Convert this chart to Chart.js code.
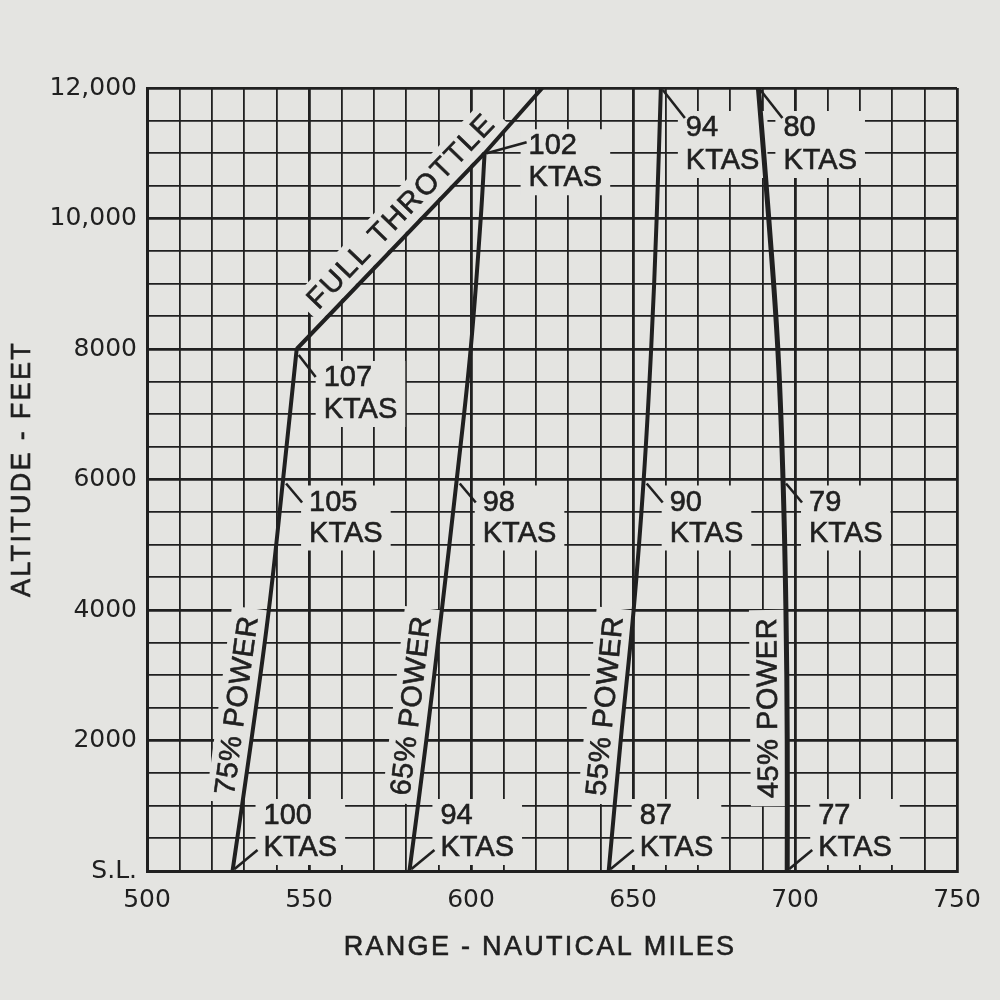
<!DOCTYPE html>
<html>
<head>
<meta charset="utf-8">
<title>Range profile</title>
<script src="https://cdn.jsdelivr.net/npm/chart.js@4.4.1/dist/chart.umd.min.js"></script>
<style>
  html, body { margin: 0; padding: 0; background: #e4e4e1; }
  #wrap { width: 1000px; height: 1000px; }
</style>
</head>
<body>
<div id="wrap"><canvas id="range-chart" width="1000" height="1000"></canvas></div>
<script>
const DOM = id => document.getElementById(id);

// --- values: altitude (ft) vs range (nm) ---
const power75Alt = [0, 2000, 4000, 6000, 8000];
const power75Nm  = [526.4, 532.2, 537.6, 542.0, 546.2];
const power65Alt = [0, 2000, 4000, 6000, 8000, 10000, 11000];
const power65Nm  = [581.0, 586.2, 591.0, 595.6, 599.9, 603.0, 604.2];
const power55Alt = [0, 2000, 4000, 6000, 8000, 10000, 12000];
const power55Nm  = [642.5, 646.2, 650.2, 653.3, 655.6, 657.3, 658.6];
const power45Alt = [0, 2000, 4000, 6000, 8000, 10000, 12000];
const power45Nm  = [697.6, 697.6, 697.2, 696.3, 694.7, 691.9, 688.7];
const throttleAlt = [8000, 11000, 12000];
const throttleNm  = [546.2, 604.2, 622.0];

const powerNames = ['75% POWER', '65% POWER', '55% POWER', '45% POWER'];
const ktasAlt75 = [0, 6000, 8000];   const ktas75 = [100, 105, 107];
const ktasAlt65 = [0, 6000, 11000];  const ktas65 = [94, 98, 102];
const ktasAlt55 = [0, 6000, 12000];  const ktas55 = [87, 90, 94];
const ktasAlt45 = [0, 6000, 12000];  const ktas45 = [77, 79, 80];

const rangeTicks = [500, 550, 600, 650, 700, 750];
const altitudeTickLabels = ['S.L.', '2000', '4000', '6000', '8000', '10,000', '12,000'];

const PAPER = '#e4e4e1';
const INK = '#202020';
const LABEL_FONT = '29px "Liberation Sans", Arial, sans-serif';

const curves = [
  { alt: power75Alt, nm: power75Nm, name: powerNames[0], kAlt: ktasAlt75, k: ktas75 },
  { alt: power65Alt, nm: power65Nm, name: powerNames[1], kAlt: ktasAlt65, k: ktas65 },
  { alt: power55Alt, nm: power55Nm, name: powerNames[2], kAlt: ktasAlt55, k: ktas55 },
  { alt: power45Alt, nm: power45Nm, name: powerNames[3], kAlt: ktasAlt45, k: ktas45 }
];

const toPoints = (nms, alts) => alts.map((a, i) => ({ x: nms[i], y: a }));

function nmAt(nms, alts, a) {
  for (let i = 0; i < alts.length - 1; i++) {
    if (a >= alts[i] && a <= alts[i + 1]) {
      const t = (a - alts[i]) / (alts[i + 1] - alts[i]);
      return nms[i] + t * (nms[i + 1] - nms[i]);
    }
  }
  return nms[nms.length - 1];
}

// leader + text offsets (px) by where the label sits on the curve
function labelLayout(alt) {
  if (alt === 0)     return { lead: [2, -2, 25, -21], dx: 31, dy1: -55, dy2: -23 };
  if (alt === 12000) return { lead: [2, 2, 24, 30],   dx: 25, dy1: 40,  dy2: 73 };
  if (alt === 11000) return { lead: [2, 0, 42, -11],  dx: 44, dy1: -7,  dy2: 25 };
  if (alt === 8000)  return { lead: [2, 6, 19, 28],   dx: 27, dy1: 29,  dy2: 61 };
  return { lead: [3, 4, 19, 23], dx: 26, dy1: 23, dy2: 54 };
}

// text running along a curve, offset to its left side
function alongCurve(chart, nms, alts, a, offset) {
  const xs = chart.scales.x, ys = chart.scales.y;
  const p1 = { x: xs.getPixelForValue(nmAt(nms, alts, a - 400)), y: ys.getPixelForValue(a - 400) };
  const p2 = { x: xs.getPixelForValue(nmAt(nms, alts, a + 400)), y: ys.getPixelForValue(a + 400) };
  const len = Math.hypot(p2.x - p1.x, p2.y - p1.y);
  const d = { x: (p2.x - p1.x) / len, y: (p2.y - p1.y) / len };
  const c = { x: xs.getPixelForValue(nmAt(nms, alts, a)), y: ys.getPixelForValue(a) };
  return { x: c.x + d.y * offset, y: c.y - d.x * offset, angle: Math.atan2(d.y, d.x) };
}

function ktasLabels(chart) {
  const xs = chart.scales.x, ys = chart.scales.y;
  const out = [];
  curves.forEach(c => {
    c.kAlt.forEach((a, i) => {
      const idx = c.alt.indexOf(a);
      const ax = xs.getPixelForValue(c.nm[idx]);
      const ay = ys.getPixelForValue(a);
      out.push({ ax, ay, text: String(c.k[i]), lay: labelLayout(a) });
    });
  });
  return out;
}

function rotatedLabels(chart) {
  const list = curves.map(c => Object.assign(alongCurve(chart, c.nm, c.alt, 2500, 19), { text: c.name, spacing: '0.5px' }));
  list.push(Object.assign(alongCurve(chart, throttleNm, throttleAlt, 9900, 20), { text: 'FULL THROTTLE', spacing: '2px' }));
  return list;
}

function inkText(ctx, text, x, y) {
  ctx.fillText(text, x, y);
  ctx.strokeText(text, x, y);
}

const paperPlugin = {
  id: 'paper',
  beforeDraw(chart) {
    const ctx = chart.ctx;
    ctx.save();
    ctx.fillStyle = PAPER;
    ctx.fillRect(0, 0, chart.width, chart.height);
    ctx.restore();
  }
};

const labelPlugin = {
  id: 'chartLabels',
  beforeDatasetsDraw(chart) {
    // blank the grid behind every label
    const ctx = chart.ctx;
    ctx.save();
    ctx.fillStyle = PAPER;
    ctx.font = LABEL_FONT;
    ktasLabels(chart).forEach(l => {
      const w = Math.max(ctx.measureText(l.text).width, ctx.measureText('KTAS').width);
      ctx.fillRect(l.ax + l.lay.dx - 8, l.ay + l.lay.dy1 - 17, w + 16, l.lay.dy2 - l.lay.dy1 + 34);
    });
    rotatedLabels(chart).forEach(l => {
      ctx.letterSpacing = l.spacing;
      const w = ctx.measureText(l.text).width;
      ctx.save();
      ctx.translate(l.x, l.y);
      ctx.rotate(l.angle);
      ctx.fillRect(-w / 2 - 8, -18, w + 16, 36);
      ctx.restore();
    });
    ctx.restore();
  },
  afterDatasetsDraw(chart) {
    const ctx = chart.ctx;
    ctx.save();
    ctx.fillStyle = INK;
    ctx.strokeStyle = INK;
    ctx.font = LABEL_FONT;
    ctx.textBaseline = 'middle';
    ctx.textAlign = 'left';
    ktasLabels(chart).forEach(l => {
      const [x1, y1, x2, y2] = l.lay.lead;
      ctx.lineWidth = 2.6;
      ctx.beginPath();
      ctx.moveTo(l.ax + x1, l.ay + y1);
      ctx.lineTo(l.ax + x2, l.ay + y2);
      ctx.stroke();
      ctx.lineWidth = 0.6;
      inkText(ctx, l.text, l.ax + l.lay.dx, l.ay + l.lay.dy1);
      inkText(ctx, 'KTAS', l.ax + l.lay.dx, l.ay + l.lay.dy2);
    });
    ctx.textAlign = 'center';
    ctx.lineWidth = 0.6;
    rotatedLabels(chart).forEach(l => {
      ctx.letterSpacing = l.spacing;
      ctx.save();
      ctx.translate(l.x, l.y);
      ctx.rotate(l.angle);
      inkText(ctx, l.text, 0, 1);
      ctx.restore();
    });
    ctx.restore();
  },
  afterDraw(chart) {
    const ctx = chart.ctx;
    ctx.save();
    ctx.fillStyle = INK;
    ctx.strokeStyle = INK;
    ctx.lineWidth = 0.6;
    ctx.font = '27px "Liberation Sans", Arial, sans-serif';
    ctx.letterSpacing = '2.3px';
    ctx.textAlign = 'center';
    ctx.textBaseline = 'middle';
    inkText(ctx, 'RANGE - NAUTICAL MILES', 540, 948);
    ctx.translate(23, 469);
    ctx.rotate(-Math.PI / 2);
    inkText(ctx, 'ALTITUDE - FEET', 0, 0);
    ctx.restore();
  }
};

const lineSet = (nms, alts, width) => ({
  data: toPoints(nms, alts),
  showLine: true,
  borderColor: INK,
  borderWidth: width,
  pointRadius: 0,
  tension: 0.4,
  fill: false
});

new Chart(DOM('range-chart').getContext('2d'), {
  type: 'scatter',
  data: {
    datasets: [
      lineSet(power75Nm, power75Alt, 4),
      lineSet(power65Nm, power65Alt, 4),
      lineSet(power55Nm, power55Alt, 4),
      lineSet(power45Nm, power45Alt, 5),
      Object.assign(lineSet(throttleNm, throttleAlt, 4), { tension: 0 })
    ]
  },
  options: {
    responsive: false,
    animation: false,
    devicePixelRatio: 1,
    layout: { padding: { top: 88, right: 43, left: 0, bottom: 0 } },
    plugins: { legend: { display: false }, tooltip: { enabled: false } },
    scales: {
      x: {
        type: 'linear', min: 500, max: 750,
        afterFit: s => { s.height = 129; },
        border: { display: true, color: INK, width: 3 },
        grid: {
          color: INK,
          drawTicks: false,
          lineWidth: c => (c.tick && c.tick.value % 50 === 0) ? 2.8 : 1.8
        },
        ticks: {
          stepSize: 10, autoSkip: false, maxRotation: 0, padding: 14,
          color: INK,
          font: { family: '"DejaVu Sans", sans-serif', size: 25 },
          callback: v => rangeTicks.includes(v) ? String(v) : ''
        }
      },
      y: {
        type: 'linear', min: 0, max: 12000,
        afterFit: s => { s.width = 147; },
        border: { display: true, color: INK, width: 3 },
        grid: {
          color: INK,
          drawTicks: false,
          lineWidth: c => (c.tick && c.tick.value % 2000 === 0) ? 2.8 : 1.8
        },
        ticks: {
          stepSize: 500, autoSkip: false, padding: 10,
          color: INK,
          font: { family: '"DejaVu Sans", sans-serif', size: 25 },
          callback: v => v % 2000 === 0 ? altitudeTickLabels[v / 2000] : ''
        }
      }
    }
  },
  plugins: [paperPlugin, labelPlugin]
});
</script>
</body>
</html>
